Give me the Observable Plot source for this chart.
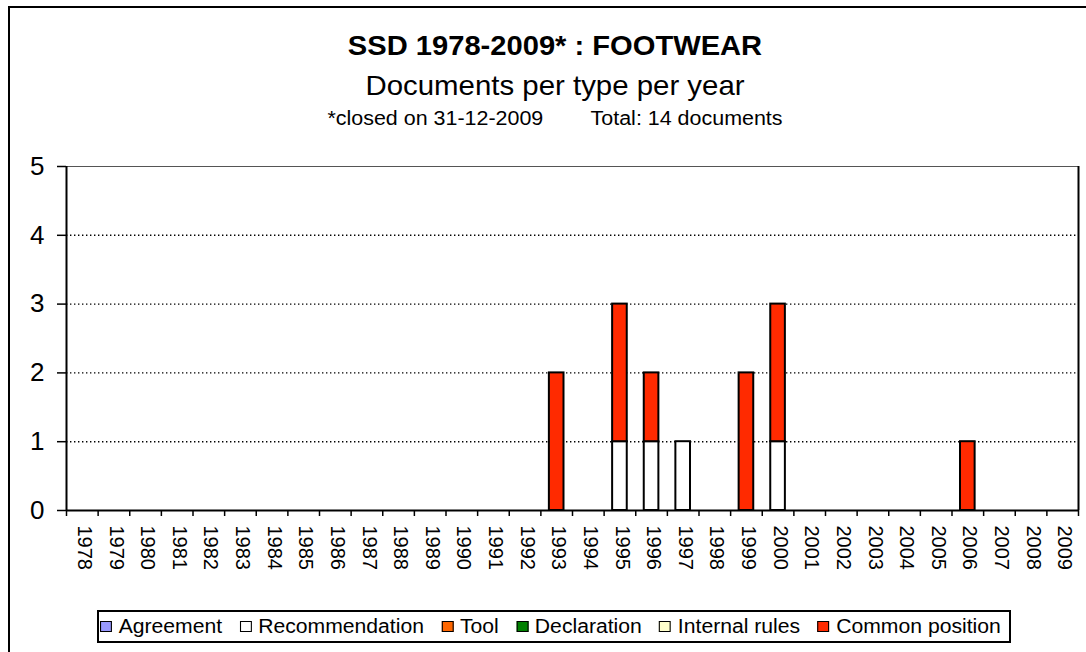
<!DOCTYPE html>
<html>
<head>
<meta charset="utf-8">
<script src="https://cdn.jsdelivr.net/npm/d3@7"></script>
<script src="https://cdn.jsdelivr.net/npm/@observablehq/plot@0.6"></script>
<style>
  html, body { margin: 0; padding: 0; background: #fff; overflow: hidden; }
  body { width: 1086px; height: 652px; position: relative; font-family: "Liberation Sans", Arial, sans-serif; color: #000; }
  #frame { position: absolute; left: 8px; top: 6px; width: 1100px; height: 700px; border: 2px solid #000; box-sizing: border-box; }
  .t { position: absolute; left: 0; width: 1110px; text-align: center; white-space: pre; transform-origin: 555px 0; }
  #title { top: 30px; font-size: 28px; font-weight: bold; transform: scaleX(1.04); }
  #subtitle { top: 70px; font-size: 28px; transform: scaleX(1.05); }
  #note { top: 107px; font-size: 19.5px; transform: scaleX(1.1); }
  #chart { position: absolute; left: 0; top: 0; }
  #legend { position: absolute; left: 97px; top: 610px; width: 914px; height: 33px; border: 2px solid #000; box-sizing: border-box; background: #fff; }
  #legendInner { position: absolute; left: 1px; top: 0; height: 29px; display: flex; align-items: center; font-size: 19.5px; transform: scaleX(1.085); transform-origin: 0 0; white-space: nowrap; }
  .item { display: flex; align-items: center; margin-right: 16px; }
  .sw { width: 9px; height: 9px; border: 1.3px solid #000; margin-right: 6.2px; }
</style>
</head>
<body>
<div id="frame"></div>
<div class="t" id="title">SSD 1978-2009* : FOOTWEAR</div>
<div class="t" id="subtitle">Documents per type per year</div>
<div class="t" id="note">*closed on 31-12-2009        Total: 14 documents</div>
<div id="chart"></div>
<div id="legend"><div id="legendInner"></div></div>
<script>
// ---- data ----
const years = d3.range(1978, 2010);
const types = ["Agreement", "Recommendation", "Tool", "Declaration", "Internal rules", "Common position"];
const colors = ["#9999FF", "#FFFFFF", "#FF6600", "#008000", "#FFFFCC", "#FF2A00"];
const recommendation = {1995: 1, 1996: 1, 1997: 1, 2000: 1};
const commonPosition = {1993: 2, 1995: 2, 1996: 1, 1999: 2, 2000: 2, 2006: 1};
const yTicks = [0, 1, 2, 3, 4, 5];

// ---- build stacked table ----
const series = {"Recommendation": recommendation, "Common position": commonPosition};
const rows = [];
for (const yr of years) {
  let base = 0;
  for (const t of types) {
    const v = (series[t] || {})[yr] || 0;
    if (v > 0) { rows.push({year: yr, type: t, y1: base, y2: base + v}); base += v; }
  }
}

const plot = Plot.plot({
  width: 1086,
  height: 600,
  marginLeft: 66,
  marginRight: 8,
  marginTop: 166,
  marginBottom: 90,
  style: {background: "none", fontFamily: "Liberation Sans, Arial, sans-serif", color: "#000"},
  x: {domain: [1978, 2010], axis: null},
  y: {domain: [0, 5], axis: null},
  color: {domain: types, range: colors},
  marks: [
    Plot.ruleY([1, 2, 3, 4], {stroke: "#000", strokeWidth: 1.4, strokeDasharray: "1.4,2.6"}),
    Plot.rect(rows, {x1: "year", x2: d => d.year + 1, y1: "y1", y2: "y2", fill: "type", stroke: "#000", strokeWidth: 2, insetLeft: 8.5, insetRight: 8.5}),
    Plot.ruleY([5], {stroke: "#555", strokeWidth: 1.2}),
    Plot.ruleX([2010], {stroke: "#000", strokeWidth: 2}),
    Plot.ruleX([1978], {stroke: "#000", strokeWidth: 2}),
    Plot.ruleY([0], {stroke: "#000", strokeWidth: 2}),
    Plot.axisY({ticks: yTicks, tickSize: 9, tickPadding: 13, fontSize: 26, tickFormat: d => String(d), stroke: "#000", strokeWidth: 1.5, label: null}),
    Plot.axisX({ticks: d3.range(1978, 2011), tickSize: 6, tickFormat: () => "", stroke: "#000", strokeWidth: 1.5, label: null}),
    Plot.axisX({ticks: years.map(y => y + 0.5), tickSize: 0, tickPadding: 15, tickRotate: 90, fontSize: 20, dx: 2, tickFormat: d => String(d - 0.5), label: null})
  ]
});
document.getElementById("chart").appendChild(plot);

// ---- legend ----
const legend = document.getElementById("legendInner");
types.forEach((t, i) => {
  const it = document.createElement("div");
  it.className = "item";
  const sw = document.createElement("div");
  sw.className = "sw";
  sw.style.background = colors[i];
  const tx = document.createElement("span");
  tx.textContent = t;
  it.appendChild(sw); it.appendChild(tx);
  legend.appendChild(it);
});
</script>
</body>
</html>
